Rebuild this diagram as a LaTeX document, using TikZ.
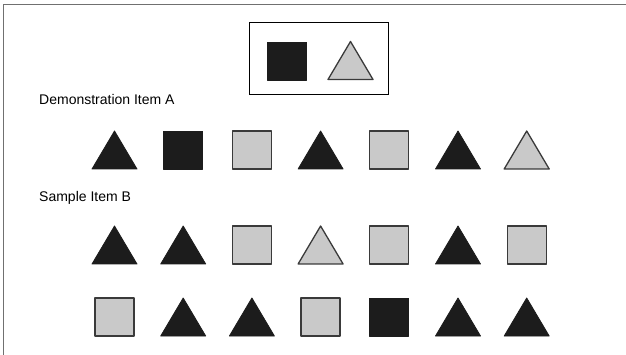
\documentclass[tikz,border=0pt]{standalone}
\usepackage{fontspec}
\setmainfont{Liberation Sans}
\definecolor{darkfill}{HTML}{1C1C1C}
\definecolor{lightfill}{HTML}{C9C9C9}
\definecolor{lightedge}{HTML}{3A3A3A}
\definecolor{framegray}{HTML}{707070}
\tikzset{
  darkshape/.style={fill=darkfill,draw=darkfill,line width=0.8pt,line join=round},
  lightshape/.style={fill=lightfill,draw=lightedge,line width=1.3pt,line join=round},
  label/.style={anchor=base west,inner sep=0pt,font=\fontsize{14}{16}\selectfont},
  tri/.pic={\path[pic actions] (-22.5,19) -- (0,-19) -- (22.5,19) -- cycle;},
  sq/.pic={\path[pic actions] (-19.5,-19) rectangle (19.5,19);}
}
\begin{document}
\begin{tikzpicture}[x=1pt,y=-1pt]
\useasboundingbox (0,0) rectangle (626,355);
% frame (only top and left edges visible)
\draw[framegray,line width=1.5pt] (3.5,355) -- (3.5,4.5) -- (626,4.5);
% key box
\node[draw=black,line width=0.8pt,minimum width=139pt,minimum height=72pt,inner sep=0pt] (key) at (318.5,58) {};
\pic[darkshape] at (287,61) {sq};
\pic[lightshape] at (350.5,60.5) {tri};
% labels
\node[label] (labA) at (39,105) {Demonstration Item A};
\node[label] (labB) at (39,202) {Sample Item B};
% row 1
\foreach \s/\st [count=\i from 0] in {tri/darkshape,sq/darkshape,sq/lightshape,tri/darkshape,sq/lightshape,tri/darkshape,tri/lightshape}
  \pic[\st] at ({114.5+68.7*\i},150) {\s};
% row 2
\foreach \s/\st [count=\i from 0] in {tri/darkshape,tri/darkshape,sq/lightshape,tri/lightshape,sq/lightshape,tri/darkshape,sq/lightshape}
  \pic[\st] at ({114.5+68.7*\i},245) {\s};
% row 3
\foreach \s/\st [count=\i from 0] in {sq/lightshape,tri/darkshape,tri/darkshape,sq/lightshape,sq/darkshape,tri/darkshape,tri/darkshape}
  \pic[\st] at ({114.5+68.7*\i},317) {\s};
\end{tikzpicture}
\end{document}
